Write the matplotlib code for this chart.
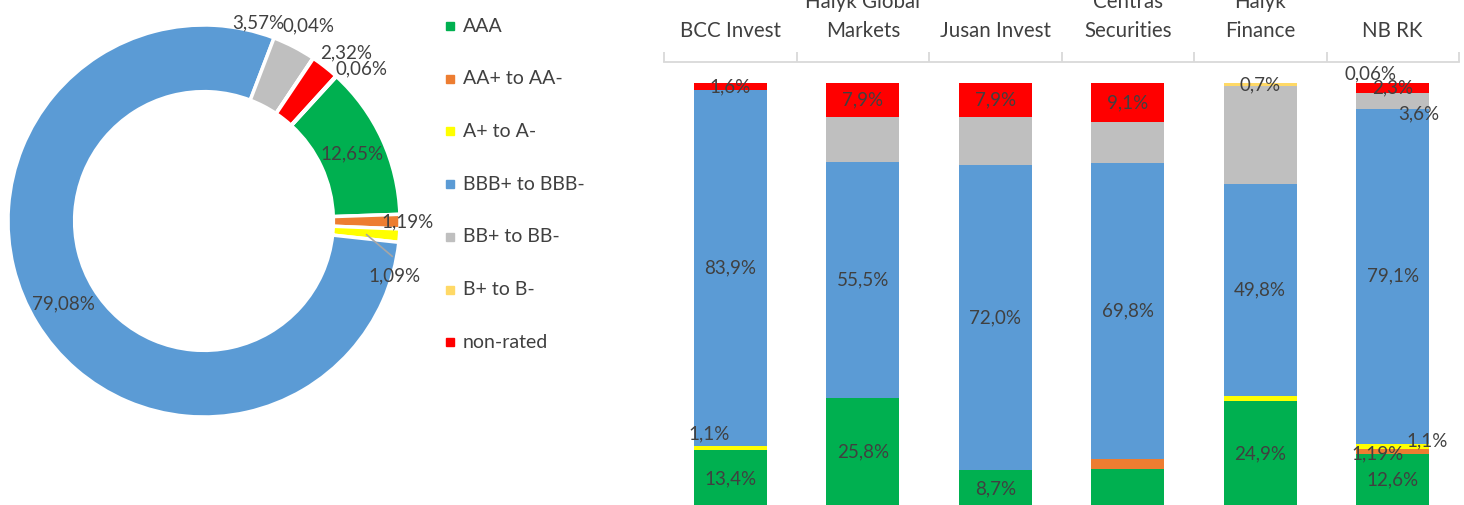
import numpy as np
import matplotlib.pyplot as plt

plt.rcParams['font.family'] = ['Lato', 'DejaVu Sans']

# ---- data ----
ratings = ['AAA', 'AA+ to AA-', 'A+ to A-', 'BBB+ to BBB-', 'BB+ to BB-', 'B+ to B-', 'non-rated']
colors = ['#00B050', '#ED7D31', '#FFFF00', '#5B9BD5', '#BFBFBF', '#FFD966', '#FF0000']

# donut (last slice has no legend entry)
pie_vals = [12.65, 1.19, 1.09, 79.08, 3.57, 0.04, 2.32, 0.06]
pie_labels = ['12,65%', '1,19%', '1,09%', '79,08%', '3,57%', '0,04%', '2,32%', '0,06%']

# stacked bars
brokers = ['BCC Invest', 'Halyk Global\nMarkets', 'Jusan Invest', 'Centras\nSecurities', 'Halyk\nFinance', 'NB RK']
aaa = [13.4, 25.8, 8.7, 9.0, 24.9, 12.6]
aa = [0, 0, 0, 2.4, 0, 1.19]
a = [1.1, 0, 0, 0, 1.4, 1.1]
bbb = [83.9, 55.5, 72.0, 69.8, 49.8, 79.1]
bb = [0, 10.8, 11.4, 9.7, 23.2, 3.6]
b = [0, 0, 0, 0, 0.7, 0.06]
nr = [1.6, 7.9, 7.9, 9.1, 0, 2.3]

aaa_lbl = ['13,4%', '25,8%', '8,7%', '', '24,9%', '12,6%']
aa_lbl = ['', '', '', '', '', '1,19%']
a_lbl = ['1,1%', '', '', '', '', '1,1%']
bbb_lbl = ['83,9%', '55,5%', '72,0%', '69,8%', '49,8%', '79,1%']
bb_lbl = ['', '', '', '', '', '3,6%']
b_lbl = ['', '', '', '', '0,7%', '0,06%']
nr_lbl = ['1,6%', '7,9%', '7,9%', '9,1%', '', '2,3%']

txt = '#404040'
W, H = 1464, 505
fig = plt.figure(figsize=(W / 100, H / 100), dpi=100)

# ---- donut ----
R = 196
cx, cy = 204, 221
half = 1.1 * R
axp = fig.add_axes([(cx - half) / W, (H - cy - half) / H, 2 * half / W, 2 * half / H])
pie_colors = colors + ['#7F7F7F']
wedges, _ = axp.pie(pie_vals, colors=pie_colors, startangle=47.5, counterclock=False,
                    radius=1, wedgeprops=dict(width=0.34, edgecolor='white', linewidth=2.5))
axp.set_xlim(-1.1, 1.1)
axp.set_ylim(-1.1, 1.1)
axp.set_aspect('equal')
axp.axis('off')

# label placement (radius, angle in degrees)
pie_pos = [(0.83, 24.4), (1.04, -0.3), (1.01, -16.2), (0.835, 210.5),
           (1.05, 74.7), (1.13, 61.9), (1.12, 49.8), (1.12, 44.0)]
for lab, (r, ang) in zip(pie_labels, pie_pos):
    t = np.deg2rad(ang)
    axp.text(r * np.cos(t), r * np.sin(t), lab, ha='center', va='center',
             fontsize=13.5, color=txt, clip_on=False)
# leader line for 1,09%
axp.plot([0.83, 0.96], [-0.07, -0.18], color='#A6A6A6', lw=1.2)

# legend
for i, (name, c) in enumerate(zip(ratings, colors)):
    yy = 26 + i * 52.7
    fig.patches.append(plt.Rectangle((446 / W, (H - yy - 4) / H), 8 / W, 8 / H,
                                     color=c, transform=fig.transFigure))
    fig.text(463 / W, (H - yy) / H, name, fontsize=14, color=txt, va='center', ha='left')

# ---- stacked bars ----
x0, x1 = 664, 1459
ytop_px, y0_px = 62, 507
axb = fig.add_axes([x0 / W, (H - y0_px) / H, (x1 - x0) / W, (y0_px - ytop_px) / H])
x = np.arange(len(brokers))
series = [aaa, aa, a, bbb, bb, b, nr]
labels = [aaa_lbl, aa_lbl, a_lbl, bbb_lbl, bb_lbl, b_lbl, nr_lbl]
bottom = np.zeros(len(brokers))
# offsets (points) for labels Excel pushed aside
shift = {(2, 0): (-15, 10), (5, 5): (-16, 14), (4, 5): (19, -9), (2, 5): (25, 4), (1, 5): (-11, -2)}
for si, (vals, c, lbls) in enumerate(zip(series, colors, labels)):
    vals = np.array(vals, dtype=float)
    axb.bar(x, vals, bottom=bottom, width=0.55, color=c)
    for j in range(len(brokers)):
        if lbls[j]:
            yc = bottom[j] + vals[j] / 2
            dx, dy = shift.get((si, j), (0, 0))
            axb.annotate(lbls[j], (x[j], yc), xytext=(dx, dy), textcoords='offset points',
                         ha='center', va='center', fontsize=13.5, color=txt,
                         annotation_clip=False)
    bottom += vals

axb.set_xlim(-0.5, len(brokers) - 0.5)
axb.set_ylim(0, 105)
axb.xaxis.tick_top()
axb.set_xticks(x)
axb.set_xticklabels(brokers, fontsize=14.8, color=txt, linespacing=1.6)
axb.set_xticks(np.arange(-0.5, len(brokers)), minor=True)
axb.tick_params(axis='x', which='major', length=0, pad=15)
axb.tick_params(axis='x', which='minor', length=7, color='#D9D9D9', width=1.3)
axb.set_yticks([])
for s in ['left', 'right', 'bottom']:
    axb.spines[s].set_visible(False)
axb.spines['top'].set_color('#D9D9D9')
axb.spines['top'].set_linewidth(1.3)

fig.savefig('out.png', dpi=100)
